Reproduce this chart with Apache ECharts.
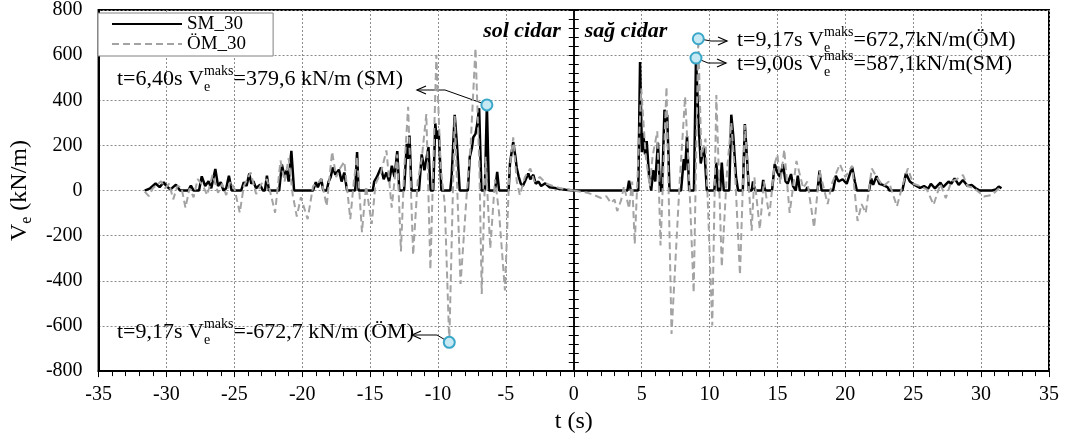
<!DOCTYPE html>
<html>
<head>
<meta charset="utf-8">
<script src="https://cdn.jsdelivr.net/npm/echarts@6/dist/echarts.min.js"></script>
<style>
html, body { margin: 0; padding: 0; background: #ffffff; }
#chart { width: 1065px; height: 439px; }
</style>
</head>
<body>
<div id="chart"></div>
<script>
// Shear force time histories of the two walls (V_e, kN/m).
// "sol cidar" (left wall) is drawn mirrored on the negative time side.
const FONT = 'Liberation Serif';

const xMin = -35, xMax = 35, xStep = 5;
const yMin = -800, yMax = 800, yStep = 200;

const seriesNames = ['SM_30', 'ÖM_30'];

// Peak values quoted in the annotations: [t (s), V (kN/m)]
const peakSolSM = [6.40, 379.6];
const peakSolOM = [9.17, -672.7];
const peakSagOM = [9.17, 672.7];
const peakSagSM = [9.00, 587.1];

// sol cidar, SM_30 : [t (s), V (kN/m)]
const solSM = [
  [31.6,0],[31.2,10],[30.8,31],[30.5,15],[30.2,37],[30.0,19],[29.7,5],[29.3,26],[29.0,0],[28.4,0],
  [28.2,22],[28.0,0],[27.6,0],[27.4,63],[27.15,20],[26.9,41],[26.7,10],[26.4,96],[26.2,20],[26.0,37],
  [25.8,0],[25.6,10],[25.4,66],[25.2,0],[24.5,0],[24.3,37],[24.1,20],[23.9,75],[23.75,30],[23.6,41],
  [23.4,10],[23.1,26],[22.9,0],[22.75,0],[22.6,66],[22.45,0],[21.7,0],[21.5,115],[21.3,60],[21.15,90],
  [21.0,40],[20.8,176],[20.6,0],[19.2,0],[19.0,37],[18.85,15],[18.6,51],[18.45,0],[18.2,0],[18.05,40],
  [17.9,60],[17.75,102],[17.55,70],[17.3,93],[17.1,40],[16.9,80],[16.7,0],[16.1,0],[15.96,171],[15.85,0],
  [14.8,0],[14.7,40],[14.5,60],[14.2,102],[14.0,50],[13.8,80],[13.6,40],[13.4,110],[13.2,60],[13.0,175],
  [12.85,0],[12.5,0],[12.3,207],[12.2,140],[12.1,244],[11.95,0],[11.4,0],[11.2,160],[11.0,90],[10.7,193],
  [10.55,0],[10.35,0],[10.2,298],[10.1,230],[9.95,266],[9.75,0],[9.1,0],[9.0,60],[8.77,336],[8.6,200],
  [8.4,0],[7.8,0],[7.66,149],[7.5,190],[7.4,236],[7.24,251],[7.1,300],[6.97,365],[6.8,0],[6.55,0],
  [6.40,379.6],[6.25,0],[5.8,0],[5.64,83],[5.5,0],[4.8,0],[4.7,120],[4.55,180],[4.46,215],[4.3,150],
  [4.2,100],[4.05,60],[3.9,30],[3.75,20],[3.6,40],[3.35,76],[3.2,50],[2.98,70],[2.8,30],[2.6,40],
  [2.4,20],[2.1,32],[1.8,15],[1.5,12],[1.1,8],[0.6,4],[0.0,0]
];

// sol cidar, ÖM_30
const solOM = [
  [31.6,-5],[31.3,-25],[31.0,10],[30.7,25],[30.4,41],[30.1,10],[29.8,30],[29.5,-39],[29.2,20],[28.9,15],
  [28.6,-76],[28.3,10],[28.0,-30],[27.7,51],[27.3,20],[27.0,-20],[26.6,70],[26.2,-10],[25.9,30],[25.6,-20],
  [25.3,40],[25.0,10],[24.6,-98],[24.3,20],[23.8,80],[23.4,-15],[23.0,30],[22.6,50],[22.3,-20],[22.0,-98],
  [21.6,133],[21.3,40],[21.0,143],[20.7,-20],[20.4,-115],[20.1,-30],[19.6,-127],[19.2,20],[18.9,30],[18.6,50],
  [18.2,-69],[17.8,172],[17.5,60],[17.2,100],[16.9,128],[16.46,-127],[16.2,40],[15.96,150],[15.6,-184],[15.3,20],
  [14.88,-148],[14.6,30],[14.2,80],[13.8,178],[13.41,-76],[13.0,160],[12.73,-270],[12.5,80],[12.2,371],[11.83,-285],
  [11.5,40],[11.2,140],[10.86,339],[10.56,-350],[10.12,601],[9.8,100],[9.5,-60],[9.17,-672.7],[8.77,330],[8.34,-414],
  [7.9,-30],[7.6,200],[7.24,631],[6.95,100],[6.78,-458],[6.5,150],[6.15,-256],[5.8,50],[5.5,-100],[5.07,-443],
  [4.75,80],[4.46,236],[4.2,40],[3.97,-20],[3.6,60],[3.2,98],[2.9,40],[2.5,60],[2.0,30],[1.5,20],
  [1.0,10],[0.5,5],[0.0,0]
];

// sağ cidar, SM_30
const sagSM = [
  [0,0],[3.95,0],[4.07,44],[4.2,0],[4.75,0],[4.88,569],[5.02,170],[5.12,255],[5.25,160],[5.37,219],
  [5.55,60],[5.7,0],[5.85,90],[6.0,40],[6.2,212],[6.35,0],[6.5,0],[6.68,358],[6.8,300],[6.88,336],
  [7.05,0],[7.9,0],[8.1,139],[8.2,90],[8.34,241],[8.5,0],[8.85,0],[9.00,587.1],[9.2,290],[9.35,120],
  [9.56,190],[9.65,150],[9.8,0],[10.35,0],[10.5,124],[10.62,0],[10.78,0],[10.9,124],[11.05,0],[11.45,0],
  [11.6,336],[11.75,240],[11.95,60],[12.1,0],[12.45,0],[12.6,295],[12.75,150],[12.9,0],[13.1,0],[13.2,40],
  [13.35,0],[13.85,0],[13.95,47],[14.1,0],[14.6,0],[14.8,117],[15.0,80],[15.2,60],[15.4,117],[15.6,40],
  [15.75,30],[16.0,73],[16.15,20],[16.35,0],[16.5,66],[16.65,0],[17.1,0],[17.2,15],[17.3,0],[17.95,0],
  [18.1,88],[18.25,0],[19.1,0],[19.3,66],[19.5,40],[19.8,50],[20.1,30],[20.5,105],[20.7,40],[20.85,0],
  [21.75,0],[21.9,54],[22.05,25],[22.3,64],[22.5,30],[22.75,25],[23.1,15],[23.25,0],[24.2,0],[24.46,76],
  [24.75,40],[25.1,25],[25.5,12],[25.8,20],[26.1,8],[26.3,30],[26.6,10],[27.0,35],[27.2,15],[27.6,40],
  [27.8,30],[28.05,54],[28.35,25],[28.66,47],[29.0,20],[29.3,25],[29.6,10],[29.9,0],[30.8,0],[31.1,5],
  [31.3,18],[31.5,10]
];

// sağ cidar, ÖM_30
const sagOM = [
  [0,0],[0.5,-5],[1.0,-10],[1.5,-20],[2.0,-33],[2.4,-25],[2.73,-55],[3.0,-40],[3.2,-91],[3.5,-40],
  [3.7,20],[4.07,-80],[4.3,40],[4.49,-236],[4.97,452],[5.3,150],[5.6,20],[5.8,150],[6.15,263],[6.39,-243],
  [6.83,460],[7.2,-635],[7.6,-185],[7.8,40],[8.2,416],[8.5,50],[8.83,-453],[9.17,672.7],[9.4,150],[9.7,230],
  [10.2,-598],[10.5,423],[10.9,-338],[11.3,100],[11.6,300],[11.9,50],[12.24,-374],[12.6,290],[13.1,-178],[13.3,60],
  [13.7,-171],[14.0,40],[14.4,-113],[14.8,120],[15.0,160],[15.2,30],[15.5,182],[15.9,-99],[16.4,131],[16.9,10],
  [17.2,40],[17.7,-164],[18.1,88],[18.7,-60],[19.0,30],[19.6,117],[20.0,60],[20.5,110],[20.9,-135],[21.2,-60],
  [21.5,-100],[21.95,98],[22.3,60],[22.8,20],[23.2,40],[23.8,-70],[24.2,20],[24.6,98],[25.0,30],[25.5,20],
  [26.0,5],[26.5,-63],[27.0,30],[27.4,-34],[27.8,40],[28.2,50],[28.66,69],[29.0,20],[29.5,10],[30.2,-26],
  [30.8,-20],[31.4,15]
];

const mirror = arr => arr.map(([t, v]) => [-t, v]);
const fmt = (n, d) => n.toFixed(d).replace('.', ',');

const smLine = { color: '#000000', width: 2.5 };
const omLine = { color: '#a3a3a3', width: 2, type: [7, 4] };

const markerStyle = {
  symbol: 'circle',
  symbolSize: 11,
  itemStyle: { color: '#c6e9f3', borderColor: '#3aa7c9', borderWidth: 2 },
  label: { show: false },
  silent: true
};
const marker = (t, v) => Object.assign({}, markerStyle, { data: [{ coord: [t, v] }] });

const annRich = {
  n: { fontFamily: FONT, fontSize: 22, color: '#000', lineHeight: 30 },
  sub: { fontFamily: FONT, fontSize: 14, color: '#000', lineHeight: 20, verticalAlign: 'bottom', width: 0 },
  sup: { fontFamily: FONT, fontSize: 14, color: '#000', lineHeight: 14, verticalAlign: 'top' }
};
const annText = (t, v, unit) => '{n|t=' + fmt(t, 2) + 's V}{sub|e}{sup|maks}{n|=' + fmt(v, 1) + unit + '}';

const zeroAxis = inside => ({
  type: 'value', min: yMin, max: yMax, interval: yStep, position: 'left',
  axisLine: { show: true, onZero: true, onZeroAxisIndex: 0, lineStyle: { color: '#000', width: 1.5 } },
  axisTick: { show: true, inside: inside, length: 5, lineStyle: { color: '#000', width: 1 } },
  minorTick: { show: true, splitNumber: 5, length: 5, lineStyle: { color: '#000', width: 1 } },
  axisLabel: { show: false },
  splitLine: { show: false }
});

const chart = echarts.init(document.getElementById('chart'), null, { renderer: 'canvas' });

chart.setOption({
  animation: false,
  backgroundColor: '#ffffff',
  grid: { left: 97, right: 16, top: 10, bottom: 62, show: true, borderColor: '#000', borderWidth: 2, backgroundColor: 'transparent' },
  legend: {
    data: seriesNames,
    orient: 'vertical',
    left: 98, top: 13,
    padding: [1, 27, 2, 13],
    itemGap: 0,
    itemWidth: 70,
    itemHeight: 14,
    backgroundColor: '#ffffff',
    borderColor: '#808080',
    borderWidth: 1,
    borderRadius: 0,
    itemStyle: { opacity: 0 },
    textStyle: { fontFamily: FONT, fontSize: 19, color: '#000', lineHeight: 20 }
  },
  xAxis: {
    type: 'value', min: xMin, max: xMax, interval: xStep,
    name: 't (s)', nameLocation: 'middle', nameGap: 30,
    nameTextStyle: { fontFamily: FONT, fontSize: 24, color: '#000' },
    axisLine: { onZero: false, lineStyle: { color: '#000', width: 2 } },
    axisTick: { show: true, length: 6, lineStyle: { color: '#000', width: 1 } },
    minorTick: { show: true, splitNumber: 5, length: 5, lineStyle: { color: '#000', width: 1 } },
    axisLabel: { fontFamily: FONT, fontSize: 20, color: '#000', margin: 14 },
    splitLine: { show: true, lineStyle: { color: '#8c8c8c', width: 1, type: [2, 2] } }
  },
  yAxis: [
    {
      type: 'value', min: yMin, max: yMax, interval: yStep, position: 'left',
      name: '{v|V}{s|e}{v| (kN/m)}', nameLocation: 'middle', nameGap: 58,
      nameTextStyle: {
        rich: {
          v: { fontFamily: FONT, fontSize: 24, color: '#000', lineHeight: 30 },
          s: { fontFamily: FONT, fontSize: 16, color: '#000', lineHeight: 22, verticalAlign: 'bottom' }
        }
      },
      axisLine: { show: true, onZero: false, lineStyle: { color: '#000', width: 2 } },
      axisTick: { show: false },
      axisLabel: { fontFamily: FONT, fontSize: 20, color: '#000', margin: 16 },
      splitLine: { show: true, lineStyle: { color: '#8c8c8c', width: 1, type: [2, 2] } }
    },
    zeroAxis(true),
    zeroAxis(false)
  ],
  series: [
    { name: 'SM_30', type: 'line', data: mirror(solSM), symbol: 'none', lineStyle: smLine, itemStyle: { color: '#000' }, z: 2,
      markPoint: marker(-peakSolSM[0], peakSolSM[1]) },
    { name: 'SM_30', type: 'line', data: sagSM, symbol: 'none', lineStyle: smLine, itemStyle: { color: '#000' }, z: 2,
      markPoint: marker(peakSagSM[0], peakSagSM[1]) },
    { name: 'ÖM_30', type: 'line', data: mirror(solOM), symbol: 'none', lineStyle: omLine, itemStyle: { color: '#a3a3a3' }, z: 3,
      markPoint: marker(-peakSolOM[0], peakSolOM[1]) },
    { name: 'ÖM_30', type: 'line', data: sagOM, symbol: 'none', lineStyle: omLine, itemStyle: { color: '#a3a3a3' }, z: 3,
      markPoint: marker(peakSagOM[0], peakSagOM[1]) }
  ]
});

// Annotation leaders and texts, anchored on the marked peaks
const toPx = (t, v) => chart.convertToPixel({ gridIndex: 0 }, [t, v]);
const zeroX = toPx(0, 0)[0];

const notes = [
  { at: [-peakSolSM[0], peakSolSM[1]], text: annText(peakSolSM[0], peakSolSM[1], ' kN/m (SM)'), tx: 117, ty: 79, elbow: [445, 90], tip: [417, 90], dir: -1 },
  { at: [-peakSolOM[0], peakSolOM[1]], text: annText(peakSolOM[0], peakSolOM[1], ' kN/m (ÖM)'), tx: 117, ty: 332, elbow: [437, 335], tip: [412, 335], dir: -1 },
  { at: [peakSagOM[0], peakSagOM[1]], text: annText(peakSagOM[0], peakSagOM[1], 'kN/m(ÖM)'), tx: 737, ty: 40, elbow: [711, 41], tip: [727, 41], dir: 1 },
  { at: [peakSagSM[0], peakSagSM[1]], text: annText(peakSagSM[0], peakSagSM[1], 'kN/m(SM)'), tx: 737, ty: 64.5, elbow: [708, 63], tip: [726, 63], dir: 1 }
];

const graphics = [];
notes.forEach(n => {
  const c = toPx(n.at[0], n.at[1]);
  graphics.push({
    type: 'polyline', z: 1, silent: true,
    shape: { points: [c, n.elbow, n.tip] },
    style: { stroke: '#000', lineWidth: 1, fill: null }
  });
  const back = -n.dir * 9;
  graphics.push({
    type: 'polyline', z: 1, silent: true,
    shape: { points: [[n.tip[0] + back, n.tip[1] - 4], n.tip, [n.tip[0] + back, n.tip[1] + 4]] },
    style: { stroke: '#000', lineWidth: 1.2, fill: null }
  });
  graphics.push({
    type: 'text', z: 5, silent: true, x: n.tx, y: n.ty,
    style: { text: n.text, rich: annRich, align: 'left', verticalAlign: 'middle' }
  });
});

const wallStyle = { fontFamily: FONT, fontSize: 22, fontWeight: 'bold', fontStyle: 'italic', fill: '#000' };
graphics.push({ type: 'text', z: 5, silent: true, x: zeroX - 13, y: 31,
  style: Object.assign({ text: 'sol cidar', align: 'right', verticalAlign: 'middle' }, wallStyle) });
graphics.push({ type: 'text', z: 5, silent: true, x: zeroX + 11, y: 31,
  style: Object.assign({ text: 'sağ cidar', align: 'left', verticalAlign: 'middle' }, wallStyle) });

chart.setOption({ graphic: graphics });
</script>
</body>
</html>
